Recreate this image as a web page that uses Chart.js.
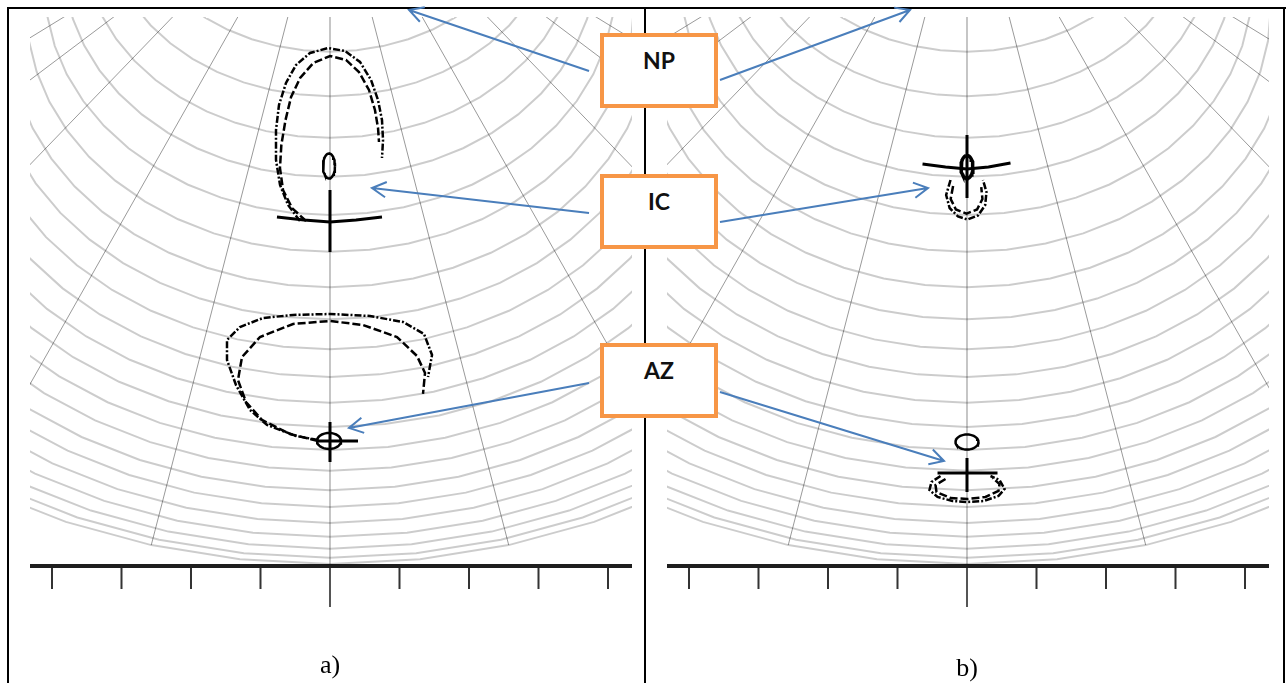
<!DOCTYPE html>
<html>
<head>
<meta charset="utf-8">
<script src="https://cdn.jsdelivr.net/npm/chart.js@4.4.1/dist/chart.umd.min.js"></script>
<style>
  html, body { margin: 0; padding: 0; background: #fff; }
  #page { position: relative; width: 1286px; height: 683px; overflow: hidden; }
  .rule { position: absolute; background: #000; }
  canvas { position: absolute; top: 0; }
  .box { position: absolute; box-sizing: border-box; width: 118px; height: 75px;
         border: 4px solid #f79646; background: #fff; color: #111;
         font-family: Lato, "Open Sans", sans-serif; font-weight: 700; font-size: 23px;
         line-height: 24px; text-align: center; padding-top: 11px; }
  .cap { position: absolute; width: 60px; text-align: center;
         font-family: "Liberation Serif", "DejaVu Serif", serif; font-size: 26px; color: #000; }
</style>
</head>
<body>
<div id="page">
  <div class="rule" style="left:7px;top:7px;width:1279px;height:2px"></div>
  <div class="rule" style="left:7px;top:7px;width:2px;height:676px"></div>
  <div class="rule" style="left:644px;top:7px;width:2px;height:676px"></div>
  <div class="rule" style="left:1283px;top:7px;width:2px;height:676px"></div>

  <canvas id="panelA" width="645" height="683" style="left:0px"></canvas>
  <canvas id="panelB" width="645" height="683" style="left:637px"></canvas>

  <div class="box" style="left:600px;top:33px">NP</div>
  <div class="box" style="left:600px;top:174px">IC</div>
  <div class="box" style="left:600px;top:343px">AZ</div>

  <div class="cap" style="left:300px;top:650px">a)</div>
  <div class="cap" style="left:937px;top:653px">b)</div>
</div>

<script>
// one x unit = one tick step of the bottom scale
var tickValues = [-4, -3, -2, -1, 0, 1, 2, 3, 4];

// sky grid: lowest point of each parallel on the centre line, and its half width
var arcBottom = [7.40, 6.76, 6.16, 5.60, 5.05, 4.52, 4.01, 3.55, 3.12, 2.72, 2.35,
                 2.00, 1.67, 1.37, 1.09, 0.85, 0.62, 0.42, 0.25, 0.12, 0.03];
var arcHalfWidth = [2.94, 3.25, 3.55, 3.83, 4.10, 4.37, 4.63, 4.89, 5.15, 5.44, 5.76,
                    6.07, 6.40, 6.76, 7.15, 7.55, 7.99, 8.49, 8.99, 9.50, 9.93];
// direction of each meridian in the picture, degrees from the vertical
var meridianDeg = [-58.5, -53, -44, -29.5, -14.5, 0, 14.5, 29.5, 44, 53, 58.5];
var poleY = 10.245;
var arcFlat = 0.8;

// panel a) traces
var npDashDotA = [[-0.432,4.964],[-0.604,5.194],[-0.719,5.482],[-0.777,5.842],[-0.777,6.273],
  [-0.734,6.633],[-0.633,6.950],[-0.489,7.209],[-0.288,7.381],[-0.029,7.453],[0.216,7.410],
  [0.432,7.252],[0.590,6.993],[0.691,6.705],[0.748,6.417],[0.763,6.129],[0.748,5.871]];
var npDashA = [[-0.345,4.964],[-0.547,5.151],[-0.676,5.410],[-0.720,5.727],[-0.700,6.058],
  [-0.640,6.417],[-0.560,6.748],[-0.430,7.022],[-0.240,7.237],[0.000,7.338],[0.230,7.281],
  [0.417,7.108],[0.561,6.849],[0.647,6.561],[0.691,6.302],[0.705,6.101]];
var azDashDotA = [[-0.173,1.813],[-0.489,1.871],[-0.906,2.029],[-1.151,2.245],[-1.353,2.604],
  [-1.482,2.964],[-1.482,3.252],[-1.295,3.439],[-0.964,3.568],[-0.532,3.612],[0,3.626],
  [0.576,3.597],[1.050,3.511],[1.353,3.338],[1.468,3.036],[1.410,2.719]];
var azDashA = [[-0.173,1.799],[-0.576,1.899],[-0.978,2.101],[-1.209,2.360],[-1.324,2.676],
  [-1.266,3.007],[-1.007,3.295],[-0.532,3.482],[0,3.525],[0.475,3.468],[0.964,3.295],
  [1.252,3.022],[1.367,2.777],[1.338,2.475]];
var icMarkA = [-0.014, 5.755, 0.086, 0.18];      // centre x, centre y, half width, half height
var icStemA = [[0, 5.41], [0, 4.518]];
var icBarA = [[-0.763,5.022],[-0.374,4.978],[0,4.950],[0.374,4.978],[0.748,5.022]];
var azMarkA = [-0.014, 1.799, 0.173, 0.115];
var azStemA = [[0, 2.072], [0, 1.496]];
var azBarA = [[-0.173,1.799],[0.403,1.799]];

// panel b) traces
var icDashDotB = [[-0.237,5.554],[-0.300,5.338],[-0.250,5.151],[-0.130,5.030],[0.007,4.985],
  [0.160,5.045],[0.262,5.194],[0.280,5.381],[0.230,5.554]];
var icDashB = [[-0.200,5.468],[-0.235,5.281],[-0.160,5.130],[-0.007,5.070],[0.145,5.130],
  [0.222,5.281],[0.205,5.453]];
var azDashDotB = [[-0.381,1.295],[-0.511,1.209],[-0.540,1.094],[-0.424,0.993],[-0.209,0.935],
  [0.007,0.921],[0.237,0.935],[0.453,1.007],[0.540,1.108],[0.468,1.237],[0.338,1.295]];
var azDashB = [[-0.309,1.252],[-0.453,1.165],[-0.439,1.065],[-0.237,0.978],[0.007,0.964],
  [0.266,0.993],[0.453,1.079],[0.468,1.180],[0.367,1.266]];
var icMarkB = [0, 5.741, 0.086, 0.165];
var icStemB = [[0, 6.201], [0, 5.295]];
var icBarB = [[-0.640,5.784],[-0.309,5.741],[0,5.712],[0.309,5.741],[0.626,5.799]];
var azMarkB = [0, 1.784, 0.165, 0.108];
var azStemB = [[0, 1.554], [0, 1.065]];
var azBarB = [[-0.424,1.338],[0.439,1.338]];

// annotation arrows: from x, from y, to x, to y
var arrowsA = [[3.727,7.122,1.137,8.0],[3.727,5.079,0.604,5.439],[3.727,2.633,0.273,1.986]];
var arrowsB = [[-3.554,6.993,-0.820,8.0],[-3.554,4.950,-0.561,5.439],[-3.554,2.504,-0.331,1.511]];

var xMin = -4.3165, xMax = 4.3453, yMax = 7.899;

function toPts(arr) {
  return arr.map(function (p) { return {x: p[0], y: p[1]}; });
}

function line(arr, color, width, dash, clip) {
  var d = {
    data: toPts(arr), showLine: true, borderColor: color, borderWidth: width,
    borderDash: dash || [], pointRadius: 0, fill: false, tension: 0
  };
  if (clip !== undefined) d.clip = clip;
  return d;
}

function ellipse(m) {
  var pts = [];
  for (var i = 0; i <= 40; i++) {
    var t = i / 40 * 2 * Math.PI;
    pts.push([m[0] + m[2] * Math.cos(t), m[1] + m[3] * Math.sin(t)]);
  }
  return pts;
}

function arcPoint(k, deg) {
  var t = deg * Math.PI / 180;
  var a = arcHalfWidth[k], b = a * arcFlat;
  return [a * Math.sin(t), arcBottom[k] + b * (1 - Math.cos(t))];
}

function lowestArcY(x) {
  var k = arcBottom.length - 1, a = arcHalfWidth[k], b = a * arcFlat;
  var u = Math.min(1, Math.abs(x) / a);
  return arcBottom[k] + b * (1 - Math.sqrt(1 - u * u));
}

// meridians run straight from the pole down to the lowest parallel
function meridianEnd(deg) {
  var t = deg * Math.PI / 180, lo = 0, hi = poleY + 6;
  for (var i = 0; i < 40; i++) {
    var s = (lo + hi) / 2;
    if (poleY - s * Math.cos(t) > lowestArcY(s * Math.sin(t))) lo = s; else hi = s;
  }
  return [lo * Math.sin(t), poleY - lo * Math.cos(t)];
}

function gridSets() {
  var sets = [];
  for (var k = 0; k < arcBottom.length; k++) {
    var pts = [];
    for (var deg = -120; deg <= 120; deg += 7.5) pts.push(arcPoint(k, deg));
    sets.push(line(pts, 'rgba(0,0,0,0.2)', 2));
  }
  meridianDeg.forEach(function (deg) {
    var pts = [[0, poleY], meridianEnd(deg)];
    sets.push(line(pts, deg === 0 ? 'rgba(0,0,0,0.3)' : 'rgba(0,0,0,0.4)', deg === 0 ? 1.5 : 1));
  });
  return sets;
}

function axisSets() {
  var sets = [line([[xMin, 0], [xMax, 0]], '#1e1e1e', 4, [], false)];
  tickValues.forEach(function (v) {
    var len = v === 0 ? 0.59 : 0.33;
    sets.push(line([[v, 0], [v, -len]], v === 0 ? '#555' : '#333', 2, [], false));
  });
  return sets;
}

var arrowPlugin = {
  id: 'arrows',
  afterDatasetsDraw: function (chart, args, opts) {
    var ctx = chart.ctx, xs = chart.scales.x, ys = chart.scales.y;
    ctx.save();
    ctx.strokeStyle = '#4a7ebb';
    ctx.lineWidth = 2;
    (opts.list || []).forEach(function (a) {
      var x1 = xs.getPixelForValue(a[0]), y1 = ys.getPixelForValue(a[1]);
      var x2 = xs.getPixelForValue(a[2]), y2 = ys.getPixelForValue(a[3]);
      var ang = Math.atan2(y2 - y1, x2 - x1);
      ctx.beginPath();
      ctx.moveTo(x1, y1);
      ctx.lineTo(x2, y2);
      ctx.moveTo(x2 - 16 * Math.cos(ang - 0.5), y2 - 16 * Math.sin(ang - 0.5));
      ctx.lineTo(x2, y2);
      ctx.lineTo(x2 - 16 * Math.cos(ang + 0.5), y2 - 16 * Math.sin(ang + 0.5));
      ctx.stroke();
    });
    ctx.restore();
  }
};

function makePanel(id, traces, arrows) {
  var data = gridSets().concat(axisSets()).concat(traces);
  return new Chart(document.getElementById(id), {
    type: 'scatter',
    data: { datasets: data },
    options: {
      responsive: false,
      animation: false,
      events: [],
      layout: { padding: { left: 30, right: 13, top: 17, bottom: 117 } },
      scales: {
        x: { type: 'linear', min: xMin, max: xMax, display: false },
        y: { type: 'linear', min: 0, max: yMax, display: false }
      },
      plugins: { legend: { display: false }, tooltip: { enabled: false }, arrows: { list: arrows } }
    },
    plugins: [arrowPlugin]
  });
}

var dashDot = [7, 2, 2, 2];
var dashed = [8, 3];

makePanel('panelA', [
  line(npDashDotA, '#000', 2.5, dashDot, false),
  line(npDashA, '#000', 2.5, dashed, false),
  line(azDashDotA, '#000', 2.5, dashDot, false),
  line(azDashA, '#000', 2.5, dashed, false),
  line(ellipse(icMarkA), '#000', 2.5, [], false),
  line(icStemA, '#000', 3, [], false),
  line(icBarA, '#000', 3, [], false),
  line(ellipse(azMarkA), '#000', 2.5, [], false),
  line(azStemA, '#000', 3, [], false),
  line(azBarA, '#000', 3, [], false)
], arrowsA);

makePanel('panelB', [
  line(icDashDotB, '#000', 2.5, dashDot, false),
  line(icDashB, '#000', 2.5, dashed, false),
  line(azDashDotB, '#000', 2.5, dashDot, false),
  line(azDashB, '#000', 2.5, dashed, false),
  line(ellipse(icMarkB), '#000', 3.5, [], false),
  line(icStemB, '#000', 3, [], false),
  line(icBarB, '#000', 3, [], false),
  line(ellipse(azMarkB), '#000', 2.5, [], false),
  line(azStemB, '#000', 3, [], false),
  line(azBarB, '#000', 3, [], false)
], arrowsB);
</script>
</body>
</html>
